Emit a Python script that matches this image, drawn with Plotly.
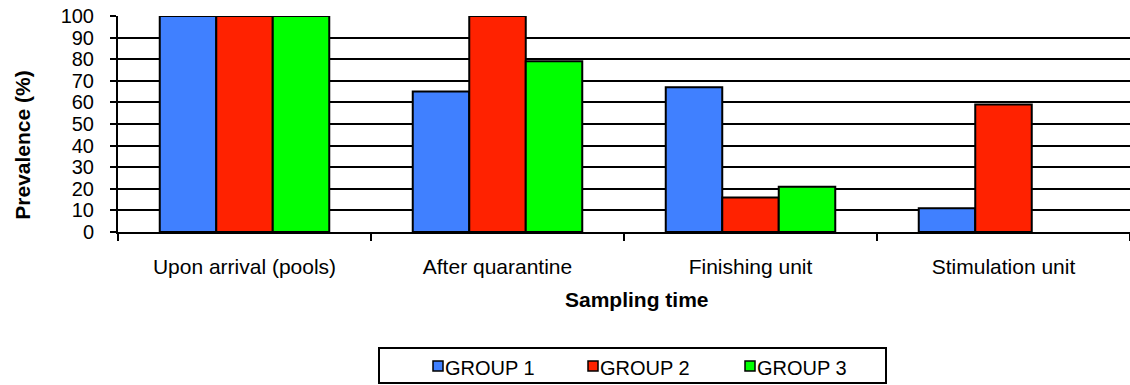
import plotly.graph_objects as go

# ---- data ----
categories = ["Upon arrival (pools)", "After quarantine", "Finishing unit", "Stimulation unit"]
group_names = ["GROUP 1", "GROUP 2", "GROUP 3"]
group1 = [100, 65, 67, 11]
group2 = [100, 100, 16, 59]
group3 = [100, 79, 21, None]
y_ticks = list(range(0, 101, 10))

colors = ["#4080FF", "#FF2200", "#00FF00"]
FONT = "Arial, 'Liberation Sans', sans-serif"

# ---- canvas geometry (pixels) ----
W, H = 1130, 385
L, R, T, B = 118, 0, 16, 153
PW = W - L - R
PH = H - T - B


def px_x(px):
    return (px - L) / PW


def px_y(py):
    return (H - B - py) / PH


fig = go.Figure()
for name, vals, col in zip(group_names, [group1, group2, group3], colors):
    fig.add_trace(go.Bar(
        x=categories, y=vals, name=name,
        marker=dict(color=col, line=dict(color="black", width=2)),
        showlegend=False,
    ))

fig.update_layout(
    width=W, height=H,
    margin=dict(l=L, r=R, t=T, b=B, pad=0),
    barmode="group", bargap=0.33, bargroupgap=0,
    plot_bgcolor="white", paper_bgcolor="white",
    font=dict(family=FONT, size=21, color="black"),
)

fig.update_xaxes(
    type="category",
    showline=True, linecolor="black", linewidth=2,
    ticks="outside", tickson="boundaries", ticklen=7, tickwidth=2, tickcolor="black",
    showgrid=False, zeroline=False,
    tickfont=dict(size=21, color="black"),
    ticklabelstandoff=15,
)
fig.update_yaxes(
    range=[0, 100], tickvals=y_ticks, ticktext=[str(v) for v in y_ticks],
    showline=True, linecolor="black", linewidth=2,
    ticks="outside", ticklen=6, tickwidth=2, tickcolor="black",
    showgrid=True, gridcolor="black", gridwidth=2, zeroline=False,
    tickfont=dict(size=20, color="black"),
    ticklabelstandoff=12,
)

# axis titles
fig.add_annotation(
    text="<b>Sampling time</b>", xref="paper", yref="paper",
    x=px_x(637), y=px_y(299), xanchor="center", yanchor="middle",
    showarrow=False, font=dict(family=FONT, size=21, color="black"),
)
fig.add_annotation(
    text="<b>Prevalence (%)</b>", xref="paper", yref="paper",
    x=px_x(21.7), y=px_y(145), xanchor="center", yanchor="middle",
    textangle=-90, showarrow=False, font=dict(family=FONT, size=21, color="black"),
)

# legend box with swatches
fig.add_shape(
    type="rect", xref="paper", yref="paper",
    x0=px_x(379), x1=px_x(886), y0=px_y(383), y1=px_y(348),
    line=dict(color="black", width=2), fillcolor="white", layer="above",
)
swatch_left = [433, 588, 745]
for name, col, sx in zip(group_names, colors, swatch_left):
    fig.add_shape(
        type="rect", xref="paper", yref="paper",
        x0=px_x(sx), x1=px_x(sx + 10), y0=px_y(371), y1=px_y(361),
        line=dict(color="black", width=1.5), fillcolor=col, layer="above",
    )
    fig.add_annotation(
        text=name, xref="paper", yref="paper",
        x=px_x(sx + 10), y=px_y(368), xanchor="left", yanchor="middle",
        showarrow=False, font=dict(family=FONT, size=20, color="black"),
    )

fig.write_html("out.html")
